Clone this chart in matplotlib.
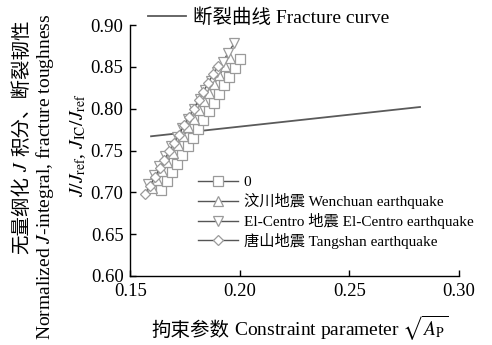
import matplotlib
matplotlib.use("Agg")
import matplotlib.pyplot as plt

plt.rcParams['font.family'] = ['Liberation Serif', 'Noto Sans CJK SC']
plt.rcParams['mathtext.fontset'] = 'stix'
plt.rcParams['axes.unicode_minus'] = False

# 断裂曲线 (两端点)
frac_x = [0.1594, 0.2822]
frac_y = [0.767, 0.802]

# 各工况的 J 积分 - 拘束参数
x_0 = [0.1640, 0.1665, 0.1689, 0.1713, 0.1737, 0.1761, 0.1784, 0.1808,
       0.1833, 0.1857, 0.1880, 0.1904, 0.1928, 0.1952, 0.1976, 0.2000]
y_0 = [0.703, 0.713, 0.724, 0.734, 0.745, 0.755, 0.765, 0.776,
       0.786, 0.797, 0.807, 0.818, 0.828, 0.838, 0.849, 0.859]

x_wc = [0.1598, 0.1622, 0.1646, 0.1669, 0.1693, 0.1717, 0.1740, 0.1764,
        0.1788, 0.1811, 0.1835, 0.1859, 0.1883, 0.1906, 0.1930, 0.1954]
y_wc = [0.705, 0.715, 0.726, 0.736, 0.747, 0.757, 0.767, 0.778,
        0.788, 0.799, 0.809, 0.819, 0.830, 0.840, 0.851, 0.861]

x_ec = [0.1580, 0.1606, 0.1632, 0.1659, 0.1685, 0.1711, 0.1737, 0.1763,
        0.1790, 0.1816, 0.1842, 0.1868, 0.1894, 0.1921, 0.1947, 0.1973]
y_ec = [0.710, 0.721, 0.732, 0.744, 0.755, 0.766, 0.777, 0.788,
        0.800, 0.811, 0.822, 0.833, 0.844, 0.856, 0.867, 0.878]

x_ts = [0.1566, 0.1588, 0.1611, 0.1633, 0.1655, 0.1677, 0.1700, 0.1722,
        0.1744, 0.1766, 0.1789, 0.1811, 0.1833, 0.1855, 0.1878, 0.1900]
y_ts = [0.698, 0.708, 0.718, 0.729, 0.739, 0.749, 0.759, 0.769,
        0.780, 0.790, 0.800, 0.810, 0.820, 0.831, 0.841, 0.851]

labels = ["0", "汶川地震 Wenchuan earthquake",
          "El-Centro 地震 El-Centro earthquake", "唐山地震 Tangshan earthquake"]
markers = ["s", "^", "v", "D"]

W, H = 492, 345
fig = plt.figure(figsize=(W / 100, H / 100), dpi=100)
ax = fig.add_axes([0.2652, 0.2, 0.6677, 0.7275])

frac_line, = ax.plot(frac_x, frac_y, color="#5a5a5a", lw=1.3)

handles = []
for xs, ys, m, lab in zip([x_0, x_wc, x_ec, x_ts], [y_0, y_wc, y_ec, y_ts],
                          markers, labels):
    ms = 5.5 if m == "D" else 6.5
    h, = ax.plot(xs, ys, color="#555555", lw=1.0, marker=m, markersize=ms,
                 markerfacecolor="white", markeredgecolor="#9a9a9a",
                 markeredgewidth=0.9, label=lab)
    handles.append(h)

ax.set_xlim(0.15, 0.30)
ax.set_ylim(0.60, 0.90)
ax.set_xticks([0.15, 0.20, 0.25, 0.30])
ax.set_yticks([0.60, 0.65, 0.70, 0.75, 0.80, 0.85, 0.90])
ax.set_xticklabels(["%.2f" % v for v in ax.get_xticks()])
ax.set_yticklabels(["%.2f" % v for v in ax.get_yticks()])
ax.tick_params(direction="in", length=4, width=1, labelsize=13.5, pad=5)
ax.spines["top"].set_visible(False)
ax.spines["right"].set_visible(False)
for s in ["left", "bottom"]:
    ax.spines[s].set_linewidth(1.0)


def pieced_text(parts, cx, cy, rotation, fontsize, gap=4):
    """中文和 mathtext 分段绘制, 沿文字方向居中于 (cx, cy) 像素."""
    renderer = fig.canvas.get_renderer()
    objs = []
    for p in parts:
        t = fig.text(0, 0, p, fontsize=fontsize, rotation=rotation,
                     rotation_mode="anchor", ha="left", va="baseline")
        objs.append(t)
    sizes = []
    for t in objs:
        bb = t.get_window_extent(renderer)
        sizes.append(bb.height if rotation == 90 else bb.width)
    total = sum(sizes) + gap * (len(parts) - 1)
    pos = -total / 2
    for t, s in zip(objs, sizes):
        if rotation == 90:
            t.set_position((cx / W, (cy + pos) / H))
        else:
            t.set_position(((cx + pos) / W, cy / H))
        pos += s + gap


# 横轴标题
pieced_text(["拘束参数", r"Constraint parameter $\sqrt{A_\mathrm{P}}$"],
            300, 345 - 336, 0, 14)

# 纵轴标题分三行
pieced_text(["无量纲化", "$J$", "积分、断裂韧性"], 27, 345 - 137, 90, 14)
fig.text(0.091, 0.487, "Normalized $J$-integral, fracture toughness",
         rotation=90, ha="center", va="center", fontsize=14)
fig.text(0.158, 0.58,
         r"$J/J_\mathrm{ref}$, $J_\mathrm{IC}/J_\mathrm{ref}$",
         rotation=90, ha="center", va="center", fontsize=14)

leg1 = fig.legend([frac_line], ["断裂曲线 Fracture curve"],
                  loc="center left", bbox_to_anchor=(0.300, 0.948),
                  frameon=False, fontsize=14, handlelength=2.0,
                  handletextpad=0.35, borderpad=0, borderaxespad=0)

leg2 = ax.legend(handles=handles, loc="upper left",
                 bbox_to_anchor=(0.205, 0.40), frameon=False, fontsize=11,
                 handlelength=2.6, handletextpad=0.4, labelspacing=0.25,
                 borderpad=0, borderaxespad=0)

fig.savefig("out.png", dpi=100)
